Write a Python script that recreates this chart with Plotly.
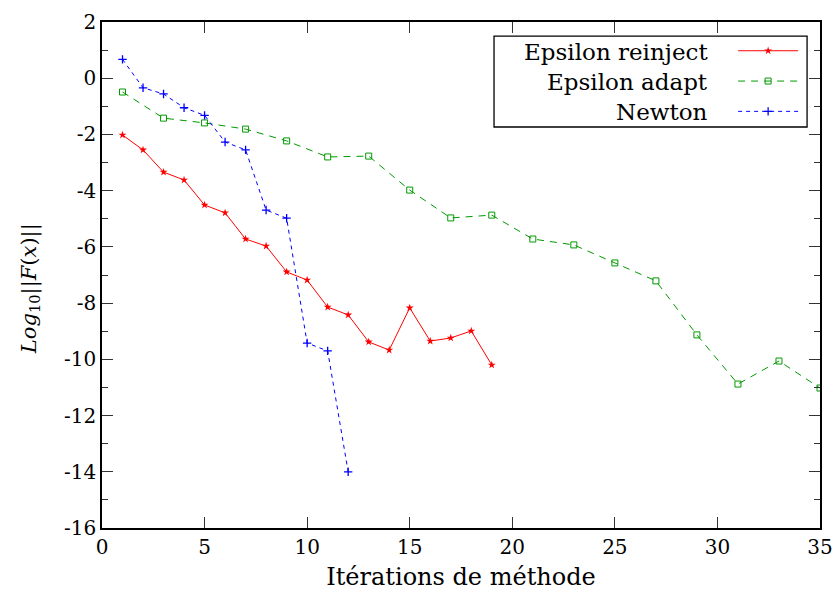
import plotly.graph_objects as go

# ---- data ----
reinject_x = list(range(1, 20))
reinject_y = [-2.02, -2.55, -3.34, -3.62, -4.51, -4.79, -5.72, -5.97, -6.89, -7.18,
              -8.14, -8.42, -9.38, -9.67, -8.17, -9.35, -9.24, -8.99, -10.2]

adapt_x = list(range(1, 36, 2))
adapt_y = [-0.49, -1.42, -1.59, -1.81, -2.23, -2.80, -2.77, -3.98, -4.97, -4.87,
           -5.72, -5.93, -6.57, -7.21, -9.13, -10.88, -10.06, -11.02]

newton_x = list(range(1, 13))
newton_y = [0.67, -0.34, -0.56, -1.05, -1.32, -2.27, -2.55, -4.69, -4.98, -9.42, -9.70, -14.0]

series_names = ["Epsilon reinject", "Epsilon adapt", "Newton"]
x_ticks = [0, 5, 10, 15, 20, 25, 30, 35]
y_ticks = list(range(-16, 3, 2))
y_ticktext = [str(v) for v in y_ticks]

FONT = "DejaVu Serif"

fig = go.Figure()
fig.add_trace(go.Scatter(
    x=reinject_x, y=reinject_y, mode="lines+markers", name=" ",
    line=dict(color="#ff0000", width=1),
    marker=dict(symbol="star", size=6, color="#ff0000", line=dict(width=0)),
))
fig.add_trace(go.Scatter(
    x=adapt_x, y=adapt_y, mode="lines+markers", name=" ",
    line=dict(color="#009a00", width=1, dash="7px,6px"),
    marker=dict(symbol="square-open", size=6, color="#009a00", line=dict(width=1)),
))
fig.add_trace(go.Scatter(
    x=newton_x, y=newton_y, mode="lines+markers", name=" ",
    line=dict(color="#0000ff", width=1, dash="4px,4px"),
    marker=dict(symbol="cross-thin-open", size=6, color="#0000ff", line=dict(width=1.3, color="#0000ff")),
))

# legend box and labels (layout decorations in paper coords)
fig.add_shape(type="rect", xref="paper", yref="paper", x0=0.546, x1=0.982, y0=0.7925, y1=0.972,
              line=dict(color="black", width=1.3), fillcolor="rgba(0,0,0,0)")
label_y = [0.941, 0.882, 0.822]
for name, yy in zip(series_names, label_y):
    fig.add_annotation(xref="paper", yref="paper", x=0.847, y=yy, text=name, showarrow=False,
                       xanchor="right", yanchor="middle", font=dict(family=FONT, size=23, color="black"))

# y-axis title (placed as rotated text to match the reference position)
fig.add_annotation(xref="paper", yref="paper", x=-0.1003, y=0.474, xanchor="center", yanchor="middle",
                   text="<i>Log</i><sub>10</sub>||<i>F</i>(<i>x</i>)||", textangle=-90, showarrow=False,
                   font=dict(family=FONT, size=21, color="black"))

fig.update_layout(
    width=836, height=592,
    margin=dict(l=102, r=16, t=22, b=64, autoexpand=False),
    paper_bgcolor="white", plot_bgcolor="white",
    font=dict(family=FONT, size=20, color="black"),
    showlegend=True,
    legend=dict(x=0.879, xanchor="left", y=0.983, yanchor="top", bgcolor="rgba(0,0,0,0)",
                borderwidth=0, itemwidth=60, font=dict(family=FONT, size=21),
                tracegroupgap=0, traceorder="normal"),
)
fig.update_xaxes(
    range=[0, 35], tickvals=x_ticks, ticktext=[str(v) for v in x_ticks],
    ticks="inside", ticklen=11, tickcolor="#333", tickwidth=1.2,
    showline=True, linecolor="black", linewidth=1.5, mirror="allticks",
    showgrid=False, zeroline=False, automargin=False,
    title=dict(text="Itérations de méthode", font=dict(family=FONT, size=24), standoff=10),
    tickfont=dict(family=FONT, size=20),
)
fig.update_yaxes(
    range=[-16, 2], tickvals=y_ticks, ticktext=y_ticktext,
    ticks="inside", ticklen=11, tickcolor="#333", tickwidth=1.2,
    minor=dict(dtick=1, tick0=0, ticks="inside", ticklen=6, tickcolor="#333", tickwidth=1.2, showgrid=False),
    showline=True, linecolor="black", linewidth=1.5, mirror="allticks",
    showgrid=False, zeroline=False, automargin=False,
    tickfont=dict(family=FONT, size=20),
)

fig.write_html("out.html")
